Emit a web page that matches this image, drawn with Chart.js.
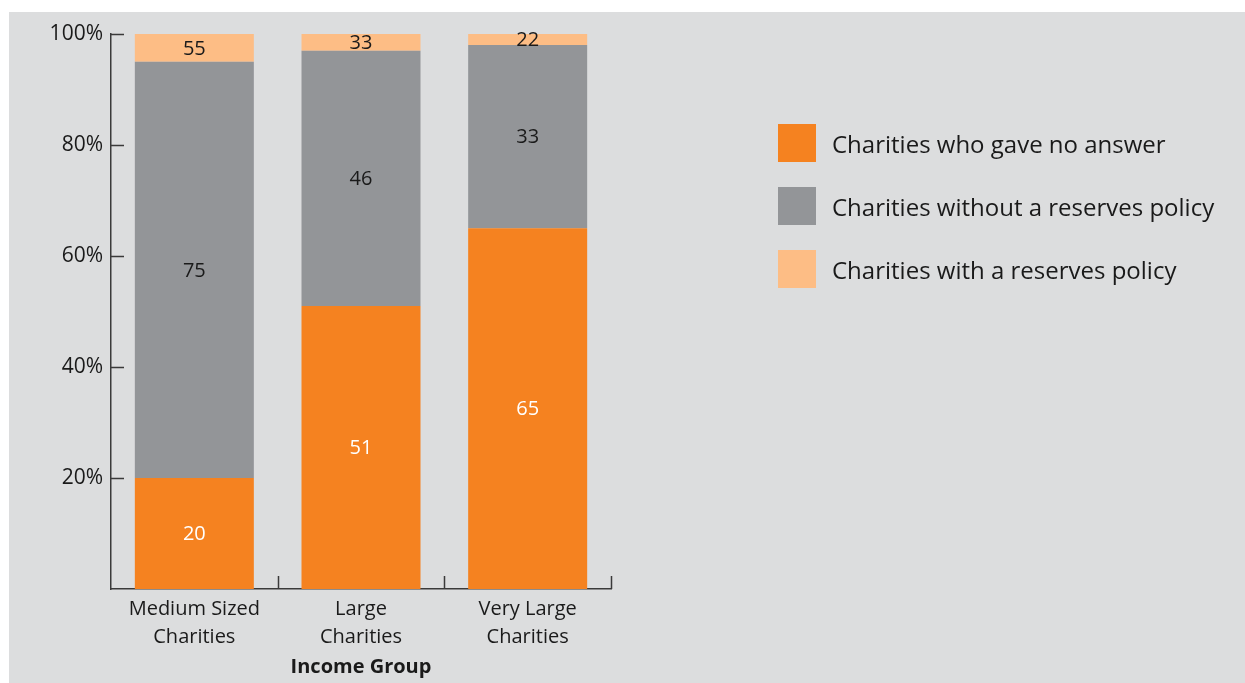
<!DOCTYPE html>
<html>
<head>
<meta charset="utf-8">
<script src="https://cdn.jsdelivr.net/npm/chart.js@4"></script>
<style>
    body { margin: 0; background: #ffffff; font-family: "Open Sans", sans-serif; }
    #panel { position: absolute; left: 9px; top: 12px; width: 1236px; height: 671px; background: #dcddde; }
    #wrap { position: absolute; left: 0; top: 0; width: 1245px; height: 683px; }
    #legend { position: absolute; left: 778px; top: 124px; }
    .item { display: flex; align-items: center; height: 38px; margin-bottom: 25px; }
    .swatch { width: 38px; height: 38px; margin-right: 16px; }
    .item span { font-size: 24px; color: #1a1a1a; }
</style>
</head>
<body>
<div id="panel"></div>
<div id="wrap"><canvas id="reservesChart"></canvas></div>
<div id="legend"></div>
<script>
// categories and series
const categories = [["Medium Sized", "Charities"], ["Large", "Charities"], ["Very Large", "Charities"]];
const noAnswer = [20, 51, 65];
const withoutPolicy = [75, 46, 33];
const withPolicy = [5, 3, 2];
// text printed on the top segments, as it appears in the picture
const withPolicyLabels = ["55", "33", "22"];
const yTicks = [20, 40, 60, 80, 100];

const seriesNames = ["Charities who gave no answer", "Charities without a reserves policy", "Charities with a reserves policy"];
const seriesColors = ["#f58220", "#939598", "#fdbd85"];
const labelColors = ["#ffffff", "#1a1a1a", "#1a1a1a"];

const FONT = "'Open Sans', sans-serif";
const AXIS = "#3a3a3a";

// bar value labels, centred in each segment
const segmentLabels = {
    id: "segmentLabels",
    afterDatasetsDraw(chart) {
        const ctx = chart.ctx;
        ctx.save();
        ctx.font = "20px " + FONT;
        ctx.textAlign = "center";
        ctx.textBaseline = "middle";
        chart.data.datasets.forEach((ds, di) => {
            chart.getDatasetMeta(di).data.forEach((bar, i) => {
                let text = di === 2 ? withPolicyLabels[i] : String(ds.data[i]);
                ctx.fillStyle = labelColors[di];
                ctx.fillText(text, bar.x, (bar.y + bar.base) / 2 + 1);
            });
        });
        ctx.restore();
    }
};

// tick marks point into the plot, as in the original
const innerTicks = {
    id: "innerTicks",
    afterDraw(chart) {
        const ctx = chart.ctx;
        const x = chart.scales.x, y = chart.scales.y;
        const area = chart.chartArea;
        ctx.save();
        ctx.strokeStyle = AXIS;
        ctx.lineWidth = 1.5;
        ctx.beginPath();
        yTicks.forEach(v => {
            let py = Math.round(y.getPixelForValue(v)) + 0.5;
            ctx.moveTo(area.left, py);
            ctx.lineTo(area.left + 13, py);
        });
        for (let i = 0; i < categories.length; i++) {
            let px = i < categories.length - 1
                ? (x.getPixelForValue(i) + x.getPixelForValue(i + 1)) / 2
                : area.right;
            px = Math.round(px) + 0.5;
            ctx.moveTo(px, area.bottom);
            ctx.lineTo(px, area.bottom - 13);
        }
        ctx.stroke();
        ctx.restore();
    }
};

let ctx = document.getElementById("reservesChart").getContext("2d");

let reservesChart = new Chart(ctx, {
    type: "bar",
    data: {
        labels: categories,
        datasets: [
            { label: seriesNames[0], data: noAnswer, backgroundColor: seriesColors[0] },
            { label: seriesNames[1], data: withoutPolicy, backgroundColor: seriesColors[1] },
            { label: seriesNames[2], data: withPolicy, backgroundColor: seriesColors[2] }
        ]
    },
    options: {
        responsive: true,
        maintainAspectRatio: false,
        animation: false,
        layout: { padding: { top: 34, right: 634, bottom: 0, left: 0 } },
        datasets: { bar: { barPercentage: 0.714, categoryPercentage: 1 } },
        plugins: { legend: { display: false }, tooltip: { enabled: false } },
        scales: {
            x: {
                stacked: true,
                grid: { display: false, drawTicks: false },
                border: { display: true, color: AXIS, width: 1.5 },
                ticks: { color: "#1a1a1a", font: { family: FONT, size: 20, lineHeight: 1.4 }, padding: 6, maxRotation: 0 },
                title: { display: true, text: "Income Group", color: "#1a1a1a", font: { family: FONT, size: 20, weight: "bold" }, padding: { top: 0 } },
                afterFit: s => { s.height = 94; }
            },
            y: {
                stacked: true,
                min: 0,
                max: 100,
                grid: { display: false, drawTicks: false },
                border: { display: true, color: AXIS, width: 1.5 },
                ticks: {
                    stepSize: 20,
                    padding: 8,
                    color: "#1a1a1a",
                    font: { family: FONT, size: 21 },
                    callback: v => (v === 0 ? "" : v + "%")
                },
                afterFit: s => { s.width = 111; }
            }
        }
    },
    plugins: [segmentLabels, innerTicks]
});

// legend as plain html
let legend = document.getElementById("legend");
seriesNames.forEach((name, i) => {
    let row = document.createElement("div");
    row.className = "item";
    row.innerHTML = '<div class="swatch" style="background:' + seriesColors[i] + '"></div><span>' + name + "</span>";
    legend.appendChild(row);
});
</script>
</body>
</html>
